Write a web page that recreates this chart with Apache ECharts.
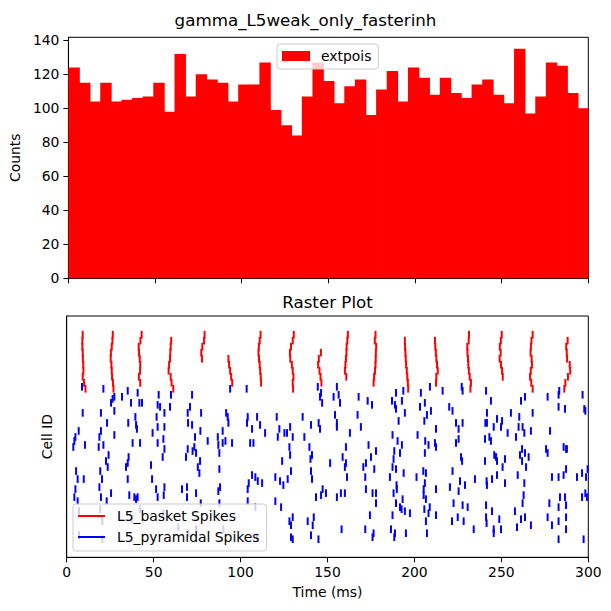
<!DOCTYPE html>
<html>
<head>
<meta charset="utf-8">
<script src="https://cdn.jsdelivr.net/npm/echarts@6/dist/echarts.min.js"></script>
<style>
html, body { margin: 0; padding: 0; background: #fff; }
#main { width: 611px; height: 611px; }
</style>
</head>
<body>
<div id="main"></div>
<script>
// extpois input histogram, 49 equal bins over 0-300 ms
var histCounts = [124, 115, 104, 115, 104, 105, 106, 107, 115, 98,
  132, 107, 120, 117, 115, 104, 114, 114, 127, 99,
  90, 84, 107, 127, 116, 103, 113, 117, 96, 111,
  122, 104, 124, 118, 108, 118, 109, 106, 114, 117,
  108, 103, 135, 97, 107, 127, 125, 109, 100];
var timeTicks = [0, 50, 100, 150, 200, 250, 300];
var countTicks = [0, 20, 40, 60, 80, 100, 120, 140];

// L5 basket cells (rows, top to bottom) and the spike time of each row in each burst
var basketRows = [111, 108, 105, 102, 99, 96, 93, 90, 87, 84];
var basketBursts = [
  [9.2, 9.0, 9.0, 9.2, 9.3, 9.5, 9.6, 9.2, 10.0, 10.8],
  [26.5, 26.3, 25.9, 25.4, 25.3, 25.7, 25.9, 26.1, 26.6, 26.9],
  [43.1, 42.4, 41.4, 41.6, 42.0, 42.3, 42.2, 41.5, 42.3, null],
  [null, 60.1, 59.8, 59.6, 59.4, 58.9, 58.6, 59.8, 60.3, 61.3],
  [79.3, 79.0, 78.0, 77.4, 77.8, null, null, null, null, null],
  [null, null, null, null, 93.0, 93.4, 94.0, 94.6, 95.2, null],
  [111.5, 111.0, 110.5, 110.3, 110.6, 111.0, 111.3, 111.6, 111.8, null],
  [130.6, 130.0, 129.0, 128.4, 128.6, 129.5, 130.0, 130.4, 130.0, 130.2],
  [null, null, null, 146.2, 145.0, 144.6, 145.4, 146.0, 146.5, null],
  [161.7, 161.4, 161.0, 160.9, 160.6, 160.3, 160.0, 160.8, null, null],
  [177.6, 177.2, 178.0, 177.8, 177.7, 177.6, 177.3, 176.8, 176.5, null],
  [null, 194.5, 194.6, 194.8, 195.0, 195.2, 195.6, 195.9, 196.2, 196.4],
  [null, 211.8, 212.0, 212.3, 212.6, 213.0, 213.4, 212.6, 212.4, null],
  [231.4, 231.2, 230.4, 230.5, 230.8, 231.0, 231.3, 231.8, 232.5, 232.2],
  [250.2, 249.7, 249.1, 249.6, 249.0, 249.8, 250.4, 250.8, null, null],
  [268.0, 267.3, 267.0, 266.8, 267.4, 267.6, 266.9, 266.5, 267.2, 268.0],
  [null, 288.1, 287.3, 287.6, 287.8, 289.3, 289.6, 288.3, 286.8, 286.2]
];

// L5 pyramidal spikes: [time ms, cell]
var pyrSpikes = [
  [8.8,85],[21.1,84],[25.5,77],[26.4,79],[27.4,80],[31.8,80],[35.1,83],[37.0,77],[40.8,82],[41.8,77],
  [43.3,77],[52.9,81],[52.3,76],[60.0,81],[72.1,81],[9.2,72],[19.7,72],[27.4,73],[39.5,70],[53.7,75],
  [56.2,72],[59.4,75],[70.9,75],[69.6,72],[23.2,67],[35.4,67],[39.9,66],[40.4,64],[51.7,70],[52.3,65],
  [56.2,65],[72.1,66],[69.8,67],[6.9,63],[5.0,60],[4.4,58],[3.8,55],[19.7,63],[18.8,60],[18.4,55],
  [27.4,61],[49.4,62],[55.6,59],[56.2,54],[55.2,50],[10.5,56],[21.1,56],[37.9,57],[42.2,57],[52.3,57],
  [73.8,60],[73.4,55],[72.4,53],[76.9,63],[24.1,51],[22.6,48],[23.6,45],[35.6,50],[35.1,47],[34.1,45],
  [48.5,46],[69.6,54],[68.6,50],[76.7,48],[5.4,43],[6.3,39],[5.0,34],[4.4,30],[9.8,39],[19.3,43],
  [20.3,39],[18.8,35],[35.1,39],[49.1,39],[51.4,34],[52.3,30],[56.2,35],[55.8,31],[66.3,34],[69.2,35],
  [69.2,30],[76.3,42],[6.3,28],[19.7,30],[23.0,28],[25.5,32],[36.0,31],[38.9,30],[39.9,29],[40.8,30],
  [7.1,23],[7.1,11],[19.2,24],[20.5,18],[20.5,9],[37.4,19],[42.2,24],[55.6,22],[64.2,15],[70.0,12],
  [90.1,14],
  [94.0,84],[103.5,84],[77.3,72],[91.7,72],[93.0,67],[92.6,70],[104.1,70],[103.7,67],[109.5,70],[111.2,66],
  [120.8,70],[128.5,65],[135.7,70],[140.5,66],[144.9,67],[145.7,64],[146.3,82],[144.4,85],[145.7,80],[146.9,77],
  [106.6,64],[114.1,62],[122.3,64],[125.2,62],[126.7,62],[130.0,60],[81.1,58],[86.9,60],[87.2,56],[89.7,63],
  [91.3,58],[89.7,57],[95.1,57],[105.5,57],[107.4,57],[121.4,60],[136.7,60],[74.4,52],[75.4,45],[87.8,52],
  [87.8,44],[123.9,48],[128.1,55],[128.5,51],[139.6,55],[141.1,51],[140.2,49],[151.5,47],[106.6,41],[108.5,40],
  [109.9,38],[112.4,37],[104.7,37],[104.1,34],[120.0,40],[122.7,38],[124.6,36],[127.1,39],[129.0,43],[140.5,43],
  [141.1,39],[147.2,34],[146.3,31],[143.4,30],[74.4,32],[87.2,33],[88.2,35],[104.1,28],[120.0,28],[123.3,25],
  [77.1,27],[87.8,27],[108.5,25],[128.1,18],[130.0,20],[129.0,16],[138.6,18],[142.1,20],[141.5,16],[129.0,10],
  [130.0,9],[140.5,11],[144.8,9],[109.5,10],[74.4,14],
  [155.4,85],[153.5,80],[156.4,81],[157.2,77],[167.9,80],[173.1,78],[175.6,76],[187.1,78],[189.4,82],[188.8,76],
  [189.4,74],[192.8,78],[193.6,83],[203.7,82],[206.0,77],[203.2,75],[208.9,85],[216.2,83],[220.0,75],[221.9,73],
  [154.3,71],[155.4,67],[155.4,65],[167.3,71],[169.2,65],[190.9,68],[194.5,72],[205.7,68],[207.2,71],[209.5,73],
  [162.9,62],[187.4,61],[190.3,58],[192.8,56],[201.8,61],[206.2,58],[208.1,56],[212.4,64],[211.8,57],[212.4,55],
  [160.6,55],[173.6,56],[177.9,53],[158.7,50],[160.6,47],[160.0,45],[170.6,45],[172.1,47],[175.0,50],[176.9,44],
  [188.4,53],[188.0,49],[187.4,45],[191.7,52],[189.4,44],[193.8,42],[206.0,52],[205.1,43],[206.6,42],[221.9,43],
  [161.2,40],[171.7,40],[185.9,40],[189.7,36],[189.9,34],[201.2,40],[206.0,37],[205.3,34],[205.3,31],[206.6,29],
  [212.4,34],[220.4,35],[149.1,32],[155.4,30],[157.7,32],[160.0,32],[172.1,34],[175.9,32],[177.9,32],[177.9,27],
  [188.0,32],[189.4,27],[193.2,29],[191.7,25],[192.6,24],[194.5,23],[197.4,22],[205.7,24],[208.1,22],[208.8,25],
  [212.4,21],[222.5,27],[174.4,21],[187.4,21],[206.6,18],[221.6,18],[158.1,14],[171.7,14],[176.5,12],[175.9,10],
  [186.5,14],[188.8,12],[188.4,10],[195.1,12],[207.2,12],
  [227.2,85],[227.7,83],[241.2,83],[244.0,78],[261.3,78],[263.6,80],[276.6,80],[283.3,83],[282.9,81],[296.7,81],
  [241.7,72],[255.5,72],[268.0,72],[282.9,75],[286.6,74],[297.7,74],[298.3,73],[223.9,67],[227.7,67],[225.4,64],
  [240.8,67],[241.7,67],[245.6,65],[247.5,69],[249.8,65],[250.4,68],[260.3,70],[259.9,65],[262.2,65],[263.2,62],
  [253.6,62],[267.0,63],[278.0,63],[223.9,57],[225.4,59],[240.6,59],[243.1,60],[244.0,58],[258.4,60],[226.8,50],
  [227.4,48],[240.6,48],[245.9,51],[246.9,50],[247.5,48],[252.1,49],[250.7,45],[260.7,51],[261.9,54],[263.6,52],
  [261.9,48],[265.7,50],[264.2,45],[275.7,54],[276.6,52],[285.8,55],[287.2,54],[287.7,54],[226.2,38],[225.4,33],
  [229.1,36],[234.8,39],[241.5,38],[241.7,36],[244.6,39],[247.5,41],[252.1,37],[259.4,41],[263.2,37],[279.1,40],
  [282.9,40],[285.8,41],[287.2,44],[293.5,40],[296.4,42],[298.7,40],[299.6,44],[227.7,26],[230.6,25],[224.9,20],
  [228.3,18],[234.1,14],[241.2,26],[241.2,20],[241.5,17],[244.6,23],[245.6,14],[245.6,12],[248.8,19],[249.8,14],
  [257.8,23],[259.0,15],[261.3,19],[263.6,20],[267.0,16],[262.8,31],[262.2,27],[277.6,27],[276.6,20],[279.1,16],
  [282.9,25],[282.9,18],[283.7,30],[286.6,30],[287.2,26],[287.2,20],[287.2,14],[296.4,30],[298.3,32],[299.2,30],
  [282.9,9],[297.3,9]
];

var binWidth = 300 / histCounts.length;
var histData = histCounts.map(function (n, i) {
  return [i * binWidth, (i + 1) * binWidth, n];
});
var basketSpikes = [];
basketBursts.forEach(function (burst) {
  burst.forEach(function (t, k) {
    if (t !== null) basketSpikes.push([t, basketRows[k]]);
  });
});

var FONT = 'DejaVu Sans';
var tickHalf = 1.9;

function barItem(params, api) {
  var p0 = api.coord([api.value(0), api.value(2)]);
  var p1 = api.coord([api.value(1), 0]);
  // overlap the next bin a little so no seam shows between bars
  var extra = params.dataIndex < histCounts.length - 1 ? 0.8 : 0;
  return {
    type: 'rect',
    shape: { x: p0[0], y: p0[1], width: p1[0] - p0[0] + extra, height: p1[1] - p0[1] },
    style: { fill: '#ff0000' }
  };
}

function spikeItem(params, api) {
  var t = api.value(0), c = api.value(1);
  var a = api.coord([t, c - tickHalf]);
  var b = api.coord([t, c + tickHalf]);
  return {
    type: 'line',
    shape: { x1: a[0], y1: a[1], x2: b[0], y2: b[1] },
    style: { stroke: api.visual('color'), lineWidth: 2 }
  };
}

var tickStyle = { show: true, inside: false, length: 5, lineStyle: { color: '#000', width: 1 } };
var labelStyle = { color: '#000', fontSize: 13.9, fontFamily: FONT };

var chart = echarts.init(document.getElementById('main'), null, { renderer: 'svg' });
chart.setOption({
  animation: false,
  graphic: [
    { type: 'text', x: 305.5, y: 20, style: { text: 'gamma_L5weak_only_fasterinh', font: '16.7px "DejaVu Sans"', fill: '#000', textAlign: 'center', textVerticalAlign: 'middle' } },
    { type: 'text', x: 327.5, y: 302, style: { text: 'Raster Plot', font: '16.7px "DejaVu Sans"', fill: '#000', textAlign: 'center', textVerticalAlign: 'middle' } }
  ],
  legend: [
    {
      data: [{ name: 'extpois', icon: 'rect' }],
      left: 277, top: 44, orient: 'vertical',
      itemWidth: 28, itemHeight: 10,
      padding: [5, 7, 6, 5],
      backgroundColor: 'rgba(255,255,255,0.8)', borderColor: '#cccccc', borderWidth: 1, borderRadius: 3,
      selectedMode: false,
      textStyle: { color: '#000', fontSize: 13.9, fontFamily: FONT, padding: [0, 0, 0, 6] }
    },
    {
      data: [{ name: 'L5_basket Spikes', icon: 'rect' }, { name: 'L5_pyramidal Spikes', icon: 'rect' }],
      left: 73, top: 504, orient: 'vertical',
      itemWidth: 27, itemHeight: 2, itemGap: 7,
      padding: [5, 7, 7, 5],
      backgroundColor: 'rgba(255,255,255,0.8)', borderColor: '#cccccc', borderWidth: 1, borderRadius: 3,
      selectedMode: false,
      textStyle: { color: '#000', fontSize: 13.9, fontFamily: FONT, padding: [0, 0, 0, 7] }
    }
  ],
  grid: [
    { left: 66.7, top: 37.3, width: 521.6, height: 241, show: true, borderColor: '#000', borderWidth: 1, backgroundColor: 'transparent' },
    { left: 66.7, top: 316, width: 521.6, height: 241.3, show: true, borderColor: '#000', borderWidth: 1, backgroundColor: 'transparent' }
  ],
  xAxis: [
    {
      type: 'value', gridIndex: 0, min: 0, max: 300, interval: 50,
      axisLine: { show: true, lineStyle: { color: '#000', width: 1 } },
      axisTick: tickStyle, axisLabel: { show: false }, splitLine: { show: false }
    },
    {
      type: 'value', gridIndex: 1, min: 0, max: 300, interval: 50,
      name: 'Time (ms)', nameLocation: 'middle', nameGap: 28,
      nameTextStyle: labelStyle,
      axisLine: { show: true, lineStyle: { color: '#000', width: 1 } },
      axisTick: tickStyle,
      axisLabel: Object.assign({ margin: 8, customValues: timeTicks }, labelStyle),
      splitLine: { show: false }
    }
  ],
  yAxis: [
    {
      type: 'value', gridIndex: 0, min: 0, max: 141.75,
      name: 'Counts', nameLocation: 'middle', nameGap: 43,
      nameTextStyle: labelStyle,
      axisLine: { show: true, lineStyle: { color: '#000', width: 1 } },
      axisTick: Object.assign({ customValues: countTicks }, tickStyle),
      axisLabel: Object.assign({ margin: 9, customValues: countTicks }, labelStyle),
      splitLine: { show: false }
    },
    {
      type: 'value', gridIndex: 1, min: 0, max: 120.3,
      name: 'Cell ID', nameLocation: 'middle', nameGap: 13,
      nameTextStyle: labelStyle,
      axisLine: { show: true, lineStyle: { color: '#000', width: 1 } },
      axisTick: { show: false }, axisLabel: { show: false }, splitLine: { show: false }
    }
  ],
  series: [
    {
      name: 'extpois', type: 'custom', xAxisIndex: 0, yAxisIndex: 0,
      renderItem: barItem, encode: { x: [0, 1], y: 2 },
      itemStyle: { color: '#ff0000' }, data: histData
    },
    {
      name: 'L5_basket Spikes', type: 'custom', xAxisIndex: 1, yAxisIndex: 1,
      renderItem: spikeItem, encode: { x: 0, y: 1 },
      itemStyle: { color: '#ff0000' }, data: basketSpikes
    },
    {
      name: 'L5_pyramidal Spikes', type: 'custom', xAxisIndex: 1, yAxisIndex: 1,
      renderItem: spikeItem, encode: { x: 0, y: 1 },
      itemStyle: { color: '#0000ff' }, data: pyrSpikes
    }
  ]
});
</script>
</body>
</html>
